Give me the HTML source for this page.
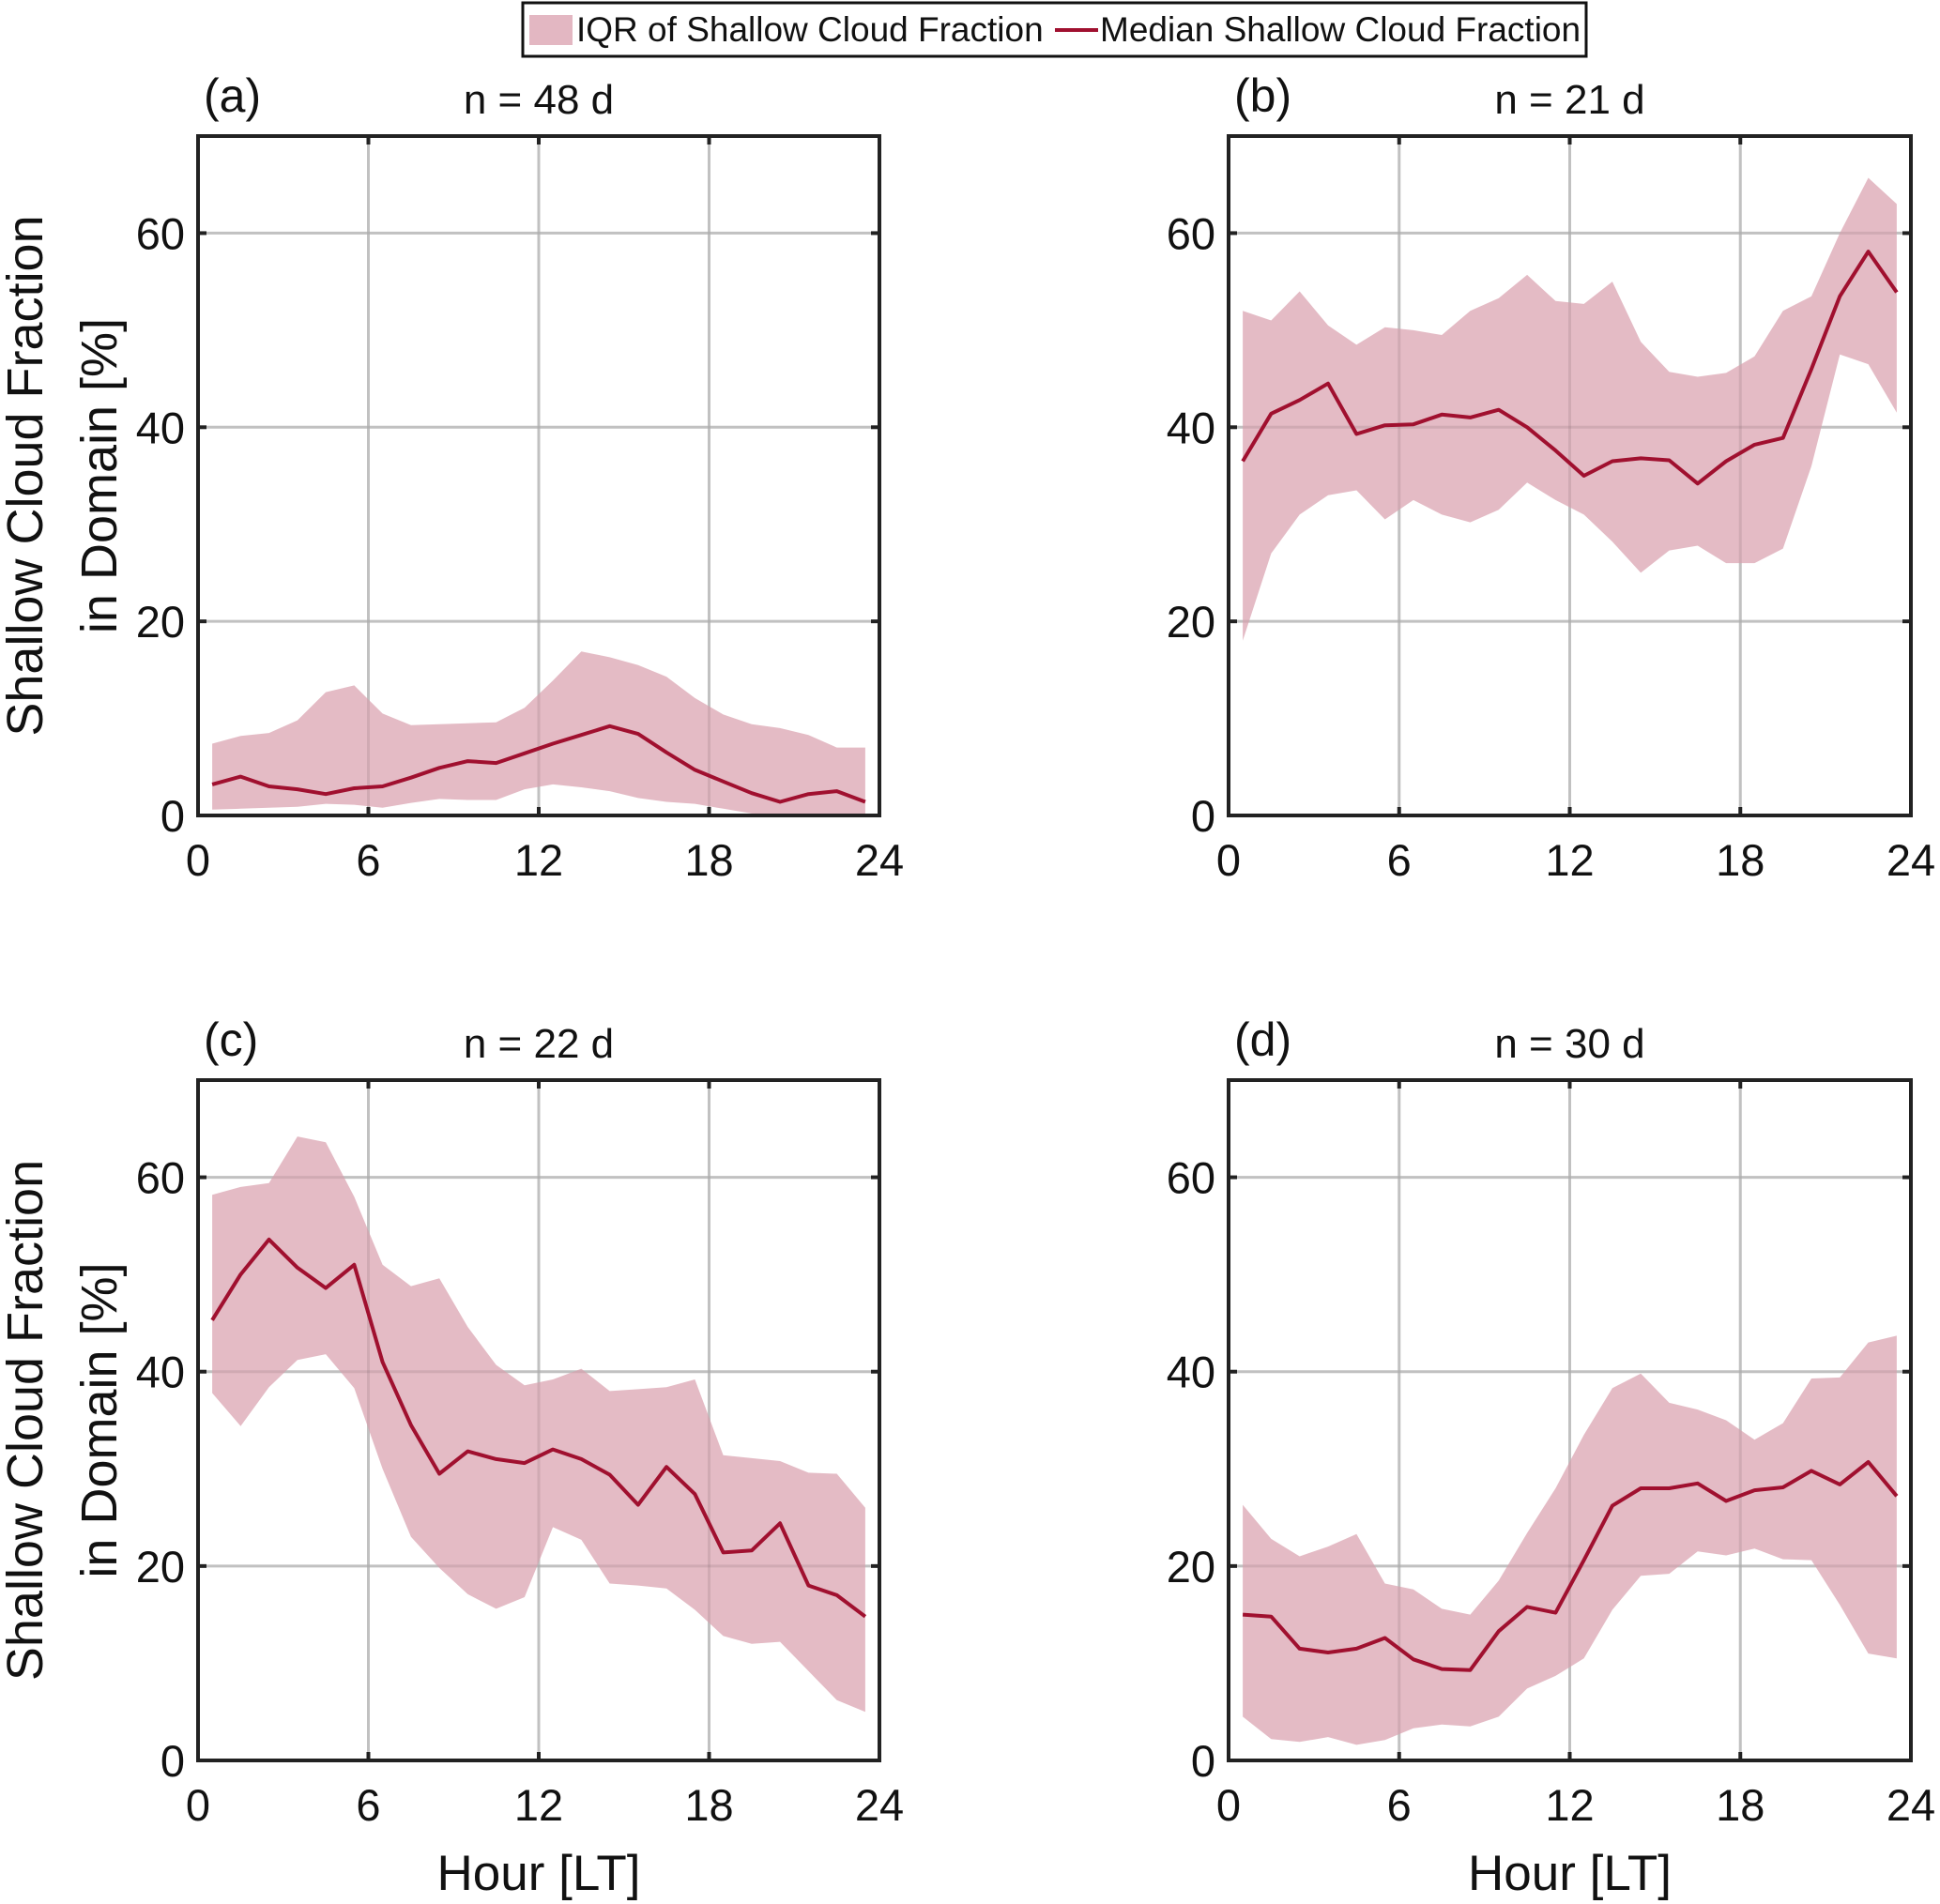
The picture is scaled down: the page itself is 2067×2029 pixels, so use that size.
<!DOCTYPE html>
<html><head><meta charset="utf-8"><style>
html,body{margin:0;padding:0;background:#fff;}
svg{display:block;font-family:"Liberation Sans",sans-serif;}
</style></head><body>
<svg id="fig" width="2067" height="2029" viewBox="0 0 2067 2029"></svg>
<script>
const hours = [0.5,1.5,2.5,3.5,4.5,5.5,6.5,7.5,8.5,9.5,10.5,11.5,12.5,13.5,14.5,15.5,16.5,17.5,18.5,19.5,20.5,21.5,22.5,23.5];
const xTicks = [0,6,12,18,24];
const yTicks = [0,20,40,60];
const panelLabels = ["(a)","(b)","(c)","(d)"];
const panelTitles = ["n = 48 d","n = 21 d","n = 22 d","n = 30 d"];
const medA = [3.2,4.0,3.0,2.7,2.2,2.8,3.0,3.9,4.9,5.6,5.4,6.4,7.4,8.3,9.2,8.4,6.5,4.7,3.5,2.3,1.4,2.2,2.5,1.4];
const upA  = [7.4,8.2,8.5,9.8,12.7,13.4,10.5,9.3,9.4,9.5,9.6,11.1,13.9,16.9,16.3,15.5,14.3,12.1,10.4,9.4,9.0,8.3,7.0,7.0];
const loA  = [0.6,0.7,0.8,0.9,1.2,1.1,0.8,1.3,1.7,1.6,1.6,2.7,3.2,2.9,2.5,1.8,1.4,1.2,0.7,0.2,0.1,0,0,0];
const medB = [36.5,41.4,42.8,44.5,39.3,40.2,40.3,41.3,41.0,41.8,40.0,37.6,35.0,36.5,36.8,36.6,34.2,36.5,38.2,38.9,46,53.5,58.1,53.9];
const upB  = [52,51,54,50.5,48.5,50.3,50,49.5,52,53.3,55.7,53,52.7,55,48.8,45.7,45.2,45.6,47.3,52,53.5,60,65.7,63];
const loB  = [18,27,31,33,33.5,30.5,32.5,31,30.2,31.5,34.3,32.5,31,28.2,25,27.3,27.8,26,26,27.5,36,47.5,46.5,41.5];
const medC = [45.3,50,53.6,50.7,48.6,51,41,34.5,29.5,31.8,31,30.6,32,31,29.4,26.3,30.2,27.4,21.4,21.6,24.4,18,17,14.8];
const upC  = [58.2,59,59.4,64.2,63.6,58,51,48.8,49.6,44.6,40.7,38.6,39.2,40.3,38,38.2,38.4,39.2,31.4,31.1,30.8,29.6,29.5,26];
const loC  = [37.8,34.4,38.4,41.2,41.8,38.3,30,23,19.8,17.1,15.6,16.8,24,22.7,18.2,18,17.7,15.5,12.8,12,12.2,9.2,6.2,5];
const medD = [15,14.8,11.5,11.1,11.5,12.6,10.4,9.4,9.3,13.3,15.8,15.2,20.6,26.2,28,28,28.5,26.7,27.8,28.1,29.8,28.4,30.7,27.2];
const upD  = [26.3,22.8,21,22,23.3,18.2,17.6,15.6,15,18.5,23.4,28,33.5,38.3,39.8,36.8,36.1,35,33,34.7,39.3,39.4,43,43.7];
const loD  = [4.5,2.2,1.9,2.4,1.6,2.1,3.3,3.7,3.5,4.5,7.4,8.7,10.5,15.5,19,19.2,21.5,21.1,21.8,20.7,20.6,16,11,10.5];

const NS="http://www.w3.org/2000/svg";
const svg=document.getElementById('fig');
function mk(tag,attrs,parent){const e=document.createElementNS(NS,tag);for(const k in attrs)e.setAttribute(k,attrs[k]);(parent||svg).appendChild(e);return e;}
const FILL="#e3b7c2", LINE="#a0102f";
const panels=[
 {L:211,R:937,T:145,B:869,med:medA,up:upA,lo:loA,ylab:true,xlab:false},
 {L:1309,R:2036,T:145,B:869,med:medB,up:upB,lo:loB,ylab:false,xlab:false},
 {L:211,R:937,T:1151,B:1876,med:medC,up:upC,lo:loC,ylab:true,xlab:true},
 {L:1309,R:2036,T:1151,B:1876,med:medD,up:upD,lo:loD,ylab:false,xlab:true}
];
panels.forEach((p,i)=>{
  const g=mk('g',{});
  
  
  const xs=v=>p.L+(v/24)*(p.R-p.L);
  const ys=v=>p.B-(v/70)*(p.B-p.T);
  xTicks.slice(1,-1).forEach(t=>{const l=mk('line',{x1:xs(t),x2:xs(t),y1:p.T,y2:p.B,stroke:"#d2d2d2","stroke-width":3},g);
    });
  yTicks.slice(1).forEach(t=>{const l=mk('line',{x1:p.L,x2:p.R,y1:ys(t),y2:ys(t),stroke:"#d2d2d2","stroke-width":3},g);
    });
  let d='';
  hours.forEach((h,k)=>{d+=(k?'L':'M')+xs(h).toFixed(1)+','+ys(p.up[k]).toFixed(1);});
  for(let k=hours.length-1;k>=0;k--)d+='L'+xs(hours[k]).toFixed(1)+','+ys(p.lo[k]).toFixed(1);
  const band=mk('path',{d:d+'Z',fill:FILL,"fill-opacity":0.95},g);
  
  
  xTicks.slice(1,-1).forEach(t=>{mk('line',{x1:xs(t),x2:xs(t),y1:p.T,y2:p.B,stroke:"#000","stroke-opacity":0.08,"stroke-width":3},g);});
  yTicks.slice(1).forEach(t=>{mk('line',{x1:p.L,x2:p.R,y1:ys(t),y2:ys(t),stroke:"#000","stroke-opacity":0.08,"stroke-width":3},g);});
  let m='';
  hours.forEach((h,k)=>{m+=(k?'L':'M')+xs(h).toFixed(1)+','+ys(p.med[k]).toFixed(1);});
  const ln=mk('path',{d:m,fill:"none",stroke:LINE,"stroke-width":4,"stroke-linejoin":"round"},g);
  
  
  const fr=mk('rect',{x:p.L,y:p.T,width:p.R-p.L,height:p.B-p.T,fill:"none",stroke:"#222","stroke-width":4},g);
  
  
  xTicks.forEach(t=>{
    mk('line',{x1:xs(t),x2:xs(t),y1:p.B,y2:p.B-9,stroke:"#222","stroke-width":4},g);
    mk('line',{x1:xs(t),x2:xs(t),y1:p.T,y2:p.T+9,stroke:"#222","stroke-width":4},g);
    const tx=mk('text',{x:xs(t),y:p.B+64,"text-anchor":"middle","font-size":47,fill:"#111"},g);
    tx.textContent=t;
    
    
  });
  yTicks.forEach(t=>{
    mk('line',{x1:p.L,x2:p.L+9,y1:ys(t),y2:ys(t),stroke:"#222","stroke-width":4},g);
    mk('line',{x1:p.R,x2:p.R-9,y1:ys(t),y2:ys(t),stroke:"#222","stroke-width":4},g);
    const tx=mk('text',{x:p.L-14,y:ys(t)+17,"text-anchor":"end","font-size":47,fill:"#111"},g);
    tx.textContent=t;
    
    
  });
  const pl=mk('text',{x:p.L+6,y:p.T-26,"font-size":50,fill:"#111"},g);
  pl.textContent=panelLabels[i];
  
  
  const tt=mk('text',{x:(p.L+p.R)/2,y:p.T-24,"text-anchor":"middle","font-size":44,fill:"#111"},g);
  tt.textContent=panelTitles[i];
  
  
  if(p.ylab){
    const cy=(p.T+p.B)/2;
    const y1=mk('text',{x:0,y:0,"text-anchor":"middle","font-size":54,fill:"#111",transform:`translate(45,${cy}) rotate(-90)`},g);
    y1.textContent="Shallow Cloud Fraction";
    
    
    const y2=mk('text',{x:0,y:0,"text-anchor":"middle","font-size":54,fill:"#111",transform:`translate(124,${cy}) rotate(-90)`},g);
    y2.textContent="in Domain [%]";
    
    
  }
  if(p.xlab){
    const xl=mk('text',{x:(p.L+p.R)/2,y:2014,"text-anchor":"middle","font-size":53,fill:"#111"},g);
    xl.textContent="Hour [LT]";
    
    
  }
});
const lg=mk('g',{});


mk('rect',{x:557,y:3,width:1133,height:57,fill:"#fff",stroke:"#111","stroke-width":3},lg);
const sw=mk('rect',{x:564,y:16,width:46,height:32,fill:FILL},lg);


const t1=mk('text',{x:614,y:44,"font-size":37,fill:"#111"},lg);
t1.textContent="IQR of Shallow Cloud Fraction";


const sl=mk('line',{x1:1124,x2:1170,y1:32,y2:32,stroke:LINE,"stroke-width":4},lg);


const t2=mk('text',{x:1172,y:44,"font-size":37,fill:"#111"},lg);
t2.textContent="Median Shallow Cloud Fraction";


</script>
</body></html>
